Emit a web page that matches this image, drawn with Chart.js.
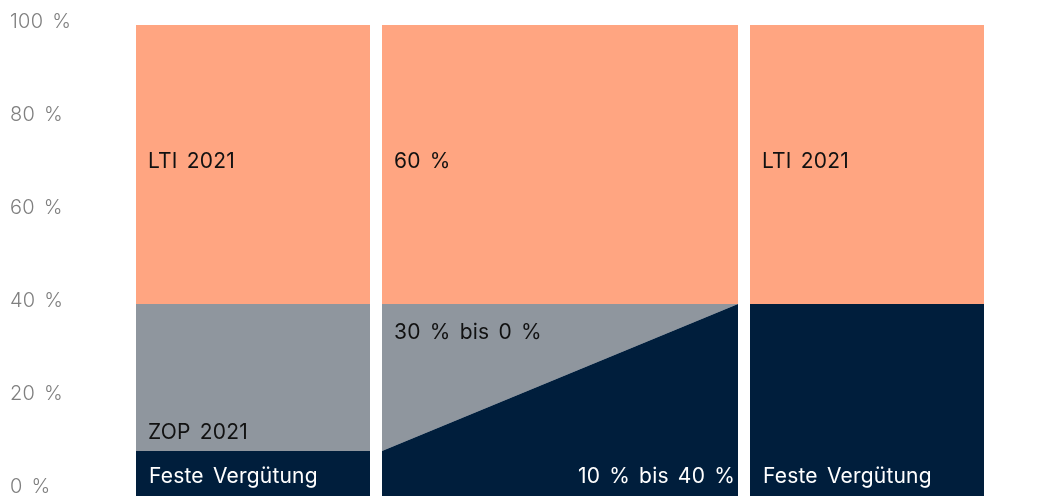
<!DOCTYPE html>
<html><head><meta charset="utf-8">
<script src="https://cdn.jsdelivr.net/npm/chart.js@4"></script>
<style>html,body{margin:0;padding:0;background:#fff}#wrap{width:1053px;height:496px;position:relative}</style>
</head><body><div id="wrap"><canvas id="c"></canvas></div>
<script>
// ---- data ----
const panels = ['Vergütung 2021', 'Übergang', 'Zielvergütung'];
const festeStart = [8.4, 8.4, 40];
const festeEnd = [8.4, 40, 40];
const zopTop = [40, 40, 40];
const ltiTop = [100, 100, 100];
const yTicks = [0, 20, 40, 60, 80, 100];
const ltiLabels = ['LTI 2021', '60 %', 'LTI 2021'];
const zopLabels = ['ZOP 2021', '30 % bis 0 %', ''];
const festeLabels = ['Feste Vergütung', '10 % bis 40 %', 'Feste Vergütung'];

// ---- layout / style ----
const NAVY = '#001e3c', GRAY = '#8f969e', ORANGE = '#ffa581';
const panelWidths = [234, 356, 234], panelGap = 12, firstPanel = 136;
const extents = [];
let cx = firstPanel;
panelWidths.forEach(w => { extents.push([cx, cx + w]); cx += w + panelGap; });
const FONT = 'Inter, "Liberation Sans", Arial, sans-serif';

const datasets = [];
panels.forEach((p, i) => {
  const [x0, x1] = extents[i];
  const lower = [{x: x0, y: festeStart[i]}, {x: x1, y: festeEnd[i]}];
  const upper = [{x: x0, y: ltiTop[i]}, {x: x1, y: ltiTop[i]}];
  datasets.push({label: 'Feste Vergütung', data: lower, fill: 'start', backgroundColor: NAVY});
  datasets.push({label: 'ZOP', data: lower, fill: {value: zopTop[i]}, backgroundColor: GRAY});
  datasets.push({label: 'LTI', data: upper, fill: {value: zopTop[i]}, backgroundColor: ORANGE});
});
datasets.forEach(d => Object.assign(d, {borderWidth: 0, pointRadius: 0, tension: 0, borderColor: 'rgba(0,0,0,0)'}));

const spacingPlugin = {
  id: 'spacing',
  beforeDraw(chart) {
    chart.ctx.letterSpacing = '0.25px';
    chart.ctx.wordSpacing = '3px';
  }
};

const labelPlugin = {
  id: 'segLabels',
  afterDatasetsDraw(chart) {
    const ctx = chart.ctx, y = chart.scales.y, area = chart.chartArea;
    ctx.save();
    ctx.font = '21px ' + FONT;
    ctx.letterSpacing = '0.2px';
    ctx.wordSpacing = '3px';
    ctx.textBaseline = 'alphabetic';
    panels.forEach((p, i) => {
      const [x0, x1] = extents[i];
      const yTop = y.getPixelForValue(ltiTop[i]);
      const yMid = y.getPixelForValue(zopTop[i]);
      const yF0 = y.getPixelForValue(festeStart[i]);
      ctx.textAlign = 'left';
      ctx.fillStyle = '#111';
      ctx.fillText(ltiLabels[i], x0 + 12, (yTop + yMid) / 2 + 3);
      if (zopLabels[i]) {
        const sloped = festeStart[i] !== festeEnd[i];
        ctx.fillText(zopLabels[i], x0 + 12, sloped ? yMid + 35 : yF0 - 12);
      }
      ctx.fillStyle = '#fff';
      if (festeStart[i] !== festeEnd[i]) {
        ctx.textAlign = 'right';
        ctx.fillText(festeLabels[i], x1 - 3, area.bottom - 13);
      } else {
        ctx.fillText(festeLabels[i], x0 + 13, area.bottom - 13);
      }
    });
    ctx.restore();
  }
};

new Chart(document.getElementById('c'), {
  type: 'line',
  data: {datasets},
  options: {
    responsive: true, maintainAspectRatio: false, animation: false,
    layout: {padding: {top: 25, left: 10, right: 0, bottom: 0}},
    plugins: {legend: {display: false}, tooltip: {enabled: false}},
    scales: {
      x: {type: 'linear', min: 100, max: 1053, display: false},
      y: {
        min: -1.29, max: 100,
        grid: {display: false}, border: {display: false},
        afterBuildTicks: s => { s.ticks = yTicks.map(v => ({value: v})); },
        afterFit: s => { s.width = 90; s.paddingTop = 0; s.paddingBottom = 0; },
        ticks: {
          crossAlign: 'far', labelOffset: -3, padding: 0,
          color: '#7f7f7f', font: {family: FONT, size: 20, weight: 300},
          callback: v => v + ' %'
        }
      }
    }
  },
  plugins: [spacingPlugin, labelPlugin]
});
</script></body></html>
